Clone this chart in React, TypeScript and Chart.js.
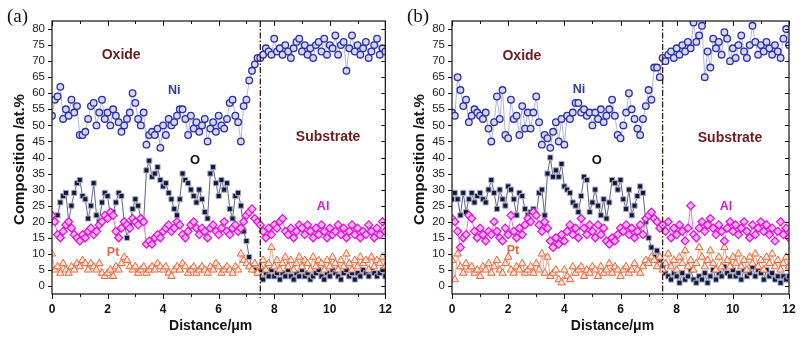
import React, { useEffect, useRef } from "react";
import { Chart, registerables } from "chart.js";
Chart.register(...registerables);

// sampling step of the profiles (μm)
const STEP = 0.1;

// ---------- Panel (a) ----------
const niA = [
  53, 58, 59, 62, 52, 55, 53, 58, 54, 56,
  47, 47, 48, 52, 56, 57, 50, 54, 58, 52,
  54, 50, 55, 53, 51, 48, 50, 52, 54, 60,
  57, 52, 50, 54, 44, 47, 48, 47, 49, 43,
  50, 47, 52, 50, 51, 53, 55, 55, 52, 47,
  53, 49, 51, 48, 50, 52, 45, 49, 51, 48,
  53, 50, 49, 52, 57, 58, 53, 51, 45, 56,
  58, 64, 67, 69, 71, 71, 72, 74, 73, 72,
  77, 73, 74, 72, 75, 73, 71, 74, 76, 77,
  73, 75, 72, 74, 71, 75, 76, 73, 77, 72,
  75, 74, 78, 72, 75, 76, 67, 74, 78, 73,
  75, 72, 74, 76, 71, 73, 75, 77, 72, 74,
  73,
];
const oA = [
  21, 20, 22, 26, 28, 29, 20, 25, 29, 32,
  33, 28, 27, 21, 25, 32, 22, 20, 26, 29,
  28, 22, 23, 26, 29, 28, 20, 15, 19, 24,
  27, 25, 21, 20, 36, 39, 34, 35, 37, 33,
  31, 32, 29, 27, 24, 22, 27, 35, 33, 32,
  30, 28, 26, 30, 27, 23, 21, 35, 37, 32,
  28, 33, 30, 32, 24, 21, 28, 29, 25, 17,
  14, 9, 6, 5, 4, 5, 2, 4, 3, 5,
  3, 4, 2, 4, 3, 5, 3, 2, 4, 3,
  5, 3, 4, 2, 3, 4, 5, 3, 2, 4,
  3, 5, 4, 3, 2, 4, 5, 3, 4, 2,
  4, 3, 5, 4, 3, 5, 4, 3, 4, 5,
  3,
];
const alA = [
  22, 20, 16, 15, 17, 19, 20, 18, 16, 15,
  14, 16, 15, 17, 18, 16, 17, 19, 20, 22,
  21, 23, 22, 17, 15, 18, 20, 19, 18, 21,
  20, 19, 21, 20, 13, 14, 13, 15, 16, 15,
  17, 18, 19, 17, 18, 20, 19, 16, 15, 17,
  19, 20, 18, 16, 18, 17, 15, 18, 19, 17,
  16, 18, 20, 17, 16, 18, 19, 17, 18, 20,
  22, 23, 24, 21, 20, 19, 17, 15, 18, 16,
  19, 18, 20, 21, 17, 16, 18, 15, 17, 19,
  18, 16, 19, 17, 15, 18, 16, 19, 17, 15,
  18, 16, 17, 19, 16, 18, 15, 17, 19, 16,
  18, 15, 17, 16, 19, 17, 15, 18, 16, 20,
  17,
];
const ptA = [
  10, 5, 6, 4, 7, 5, 4, 6, 5, 7,
  6, 8, 7, 5, 7, 6, 5, 7, 4, 3,
  4, 5, 3, 6, 5, 7, 9, 8, 6, 5,
  6, 4, 5, 6, 4, 5, 6, 5, 7, 6,
  5, 6, 4, 3, 5, 6, 5, 7, 6, 4,
  5, 6, 4, 5, 6, 5, 4, 6, 5, 7,
  6, 4, 5, 6, 5, 4, 6, 5, 10, 8,
  7, 6, 5, 7, 4, 6, 8, 5, 7, 12,
  6, 8, 5, 7, 9, 6, 8, 5, 7, 9,
  6, 8, 7, 5, 9, 6, 8, 7, 5, 8,
  6, 9, 7, 5, 8, 6, 10, 7, 5, 8,
  6, 9, 7, 8, 5, 9, 6, 8, 7, 9,
  6,
];

// ---------- Panel (b) ----------
const niB = [
  54, 53, 65, 61, 56, 58, 51, 53, 55, 54,
  53, 52, 54, 49, 45, 51, 59, 52, 61, 47,
  46, 58, 52, 53, 47, 56, 49, 54, 49, 54,
  59, 51, 44, 47, 46, 43, 48, 51, 45, 52,
  44, 53, 52, 54, 57, 57, 54, 55, 53, 54,
  50, 54, 52, 55, 51, 53, 55, 58, 53, 47,
  46, 50, 54, 60, 55, 52, 49, 47, 52, 56,
  61, 58, 68, 68, 65, 71, 70, 72, 73, 71,
  74, 72, 75, 73, 76, 74, 82, 76, 78, 81,
  65, 73, 68, 77, 74, 76, 72, 79, 77, 70,
  74, 71, 75, 78, 73, 71, 75, 81, 76, 72,
  75, 73, 76, 74, 72, 75, 73, 71, 77, 80,
  75,
];
const oB = [
  27, 29, 27, 22, 29, 23, 27, 29, 26, 28,
  29, 27, 26, 30, 33, 29, 24, 30, 27, 25,
  31, 30, 27, 22, 29, 28, 24, 22, 23, 24,
  22, 29, 30, 22, 35, 40, 34, 36, 34, 38,
  31, 30, 29, 26, 25, 23, 28, 34, 33, 23,
  26, 30, 25, 22, 27, 21, 26, 33, 32, 30,
  33, 27, 24, 30, 22, 25, 28, 31, 29, 20,
  15, 12, 9, 11, 8, 6, 4, 3, 2, 4,
  3, 1, 4, 2, 3, 5, 2, 1, 3, 2,
  4, 1, 3, 5, 2, 4, 3, 6, 4, 3,
  5, 3, 4, 2, 5, 3, 4, 6, 3, 5,
  4, 2, 5, 3, 4, 2, 3, 1, 3, 2,
  3,
];
const alB = [
  21, 20, 17, 12, 15, 16, 22, 21, 17, 15,
  18, 16, 14, 17, 16, 20, 17, 15, 14, 18,
  16, 22, 17, 15, 18, 16, 19, 21, 20, 23,
  22, 19, 17, 20, 18, 14, 12, 15, 13, 16,
  14, 17, 19, 16, 18, 15, 21, 18, 16, 19,
  17, 15, 19, 16, 18, 14, 13, 15, 14, 16,
  18, 17, 19, 16, 18, 15, 17, 19, 16, 21,
  22, 23, 21, 20, 18, 19, 17, 20, 15, 18,
  16, 19, 17, 14, 18, 25, 16, 15, 18, 20,
  17, 19, 21, 18, 16, 19, 17, 14, 18, 20,
  17, 19, 16, 18, 20, 17, 15, 19, 16, 18,
  20, 17, 19, 16, 18, 14, 17, 20, 16, 18,
  15,
];
const ptB = [
  8, 2, 10, 6, 4, 7, 5, 6, 4, 5,
  3, 6, 5, 7, 4, 6, 8, 5, 4, 7,
  9, 5, 4, 6, 5, 7, 4, 5, 6, 4,
  7, 5, 10, 4, 9, 3, 4, 5, 2, 1,
  5, 3, 2, 6, 4, 5, 6, 3, 5, 4,
  6, 5, 3, 6, 4, 5, 7, 4, 6, 5,
  3, 5, 6, 4, 5, 7, 5, 4, 6, 8,
  7, 9, 8, 6, 9, 5, 7, 10, 6, 8,
  5, 9, 7, 11, 6, 8, 5, 7, 12, 9,
  6, 8, 11, 7, 5, 9, 6, 12, 8, 6,
  9, 7, 10, 6, 8, 5, 9, 7, 10, 6,
  8, 5, 9, 7, 10, 6, 8, 5, 7, 9,
  6,
];

const yTickValues = [0, 5, 10, 15, 20, 25, 30, 35, 40, 45, 50, 55, 60, 65, 70, 75, 80];
const xTickValues = [0, 2, 4, 6, 8, 10, 12];
const INTERFACE = 7.5;

const FONT = "'Liberation Sans', Arial, sans-serif";

type Label = { text: string; x: number; y: number; color: string; size: number };

const labelsA: Label[] = [
  { text: "Oxide", x: 2.49, y: 72, color: "#6a1c1c", size: 14 },
  { text: "Ni", x: 4.4, y: 61, color: "#2b3aa0", size: 12.5 },
  { text: "O", x: 5.15, y: 39, color: "#111111", size: 13 },
  { text: "Substrate", x: 9.94, y: 46.3, color: "#6a1c1c", size: 14 },
  { text: "Al", x: 9.76, y: 24.6, color: "#d41cd0", size: 12.5 },
  { text: "Pt", x: 2.2, y: 10.3, color: "#e06a46", size: 12.5 },
];
const labelsB: Label[] = [
  { text: "Oxide", x: 2.49, y: 71.6, color: "#6a1c1c", size: 14 },
  { text: "Ni", x: 4.52, y: 61.2, color: "#2b3aa0", size: 12.5 },
  { text: "O", x: 5.16, y: 39, color: "#111111", size: 13 },
  { text: "Substrate", x: 9.9, y: 46, color: "#6a1c1c", size: 14 },
  { text: "Al", x: 9.76, y: 24.8, color: "#d41cd0", size: 12.5 },
  { text: "Pt", x: 2.17, y: 10.9, color: "#e06a46", size: 12.5 },
];

function toPoints(values: number[]) {
  return values.map((v, i) => ({ x: Math.round(i * STEP * 10) / 10, y: v }));
}

type PanelProps = {
  tag: string;
  ni: number[];
  o: number[];
  al: number[];
  pt: number[];
  labels: Label[];
  width: number;
  padRight: number;
};

function Panel({ tag, ni, o, al, pt, labels, width, padRight }: PanelProps) {
  const ref = useRef<HTMLCanvasElement | null>(null);
  useEffect(() => {
    if (!ref.current) return;
    const decor = {
      id: "decor",
      afterDatasetsDraw(chart: any) {
        const { ctx, chartArea: a, scales } = chart;
        const xs = scales.x;
        const ys = scales.y;
        ctx.save();
        // interface line
        const xi = xs.getPixelForValue(INTERFACE);
        ctx.strokeStyle = "#3a1a12";
        ctx.lineWidth = 1.3;
        ctx.setLineDash([6, 2, 1.5, 2]);
        ctx.beginPath();
        ctx.moveTo(xi, a.top);
        ctx.lineTo(xi, a.bottom + 4);
        ctx.stroke();
        ctx.setLineDash([]);
        // labels
        ctx.textAlign = "center";
        ctx.textBaseline = "middle";
        for (const l of labels) {
          ctx.font = `bold ${l.size}px ${FONT}`;
          ctx.fillStyle = l.color;
          ctx.fillText(l.text, xs.getPixelForValue(l.x), ys.getPixelForValue(l.y));
        }
        ctx.restore();
      },
      afterDraw(chart: any) {
        const { ctx, chartArea: a, scales } = chart;
        const xs = scales.x;
        const ys = scales.y;
        ctx.save();
        ctx.strokeStyle = "#111";
        ctx.lineWidth = 1.2;
        ctx.strokeRect(a.left, a.top, a.right - a.left, a.bottom - a.top);
        ctx.lineWidth = 1;
        ctx.beginPath();
        for (let i = 0; i <= 12; i++) {
          const px = Math.round(xs.getPixelForValue(i)) + 0.5;
          const len = i % 2 === 0 ? 5 : 3;
          ctx.moveTo(px, a.bottom);
          ctx.lineTo(px, a.bottom + len);
          ctx.moveTo(px, a.top);
          ctx.lineTo(px, a.top + len);
        }
        for (const v of yTickValues) {
          const py = Math.round(ys.getPixelForValue(v)) + 0.5;
          ctx.moveTo(a.left, py);
          ctx.lineTo(a.left - 4, py);
          ctx.moveTo(a.right, py);
          ctx.lineTo(a.right - 4, py);
        }
        ctx.stroke();
        // axis titles
        ctx.fillStyle = "#111";
        ctx.font = `bold 14px ${FONT}`;
        ctx.textAlign = "center";
        ctx.textBaseline = "middle";
        ctx.fillText("Distance/\u03bcm", (a.left + a.right) / 2 - 8, a.bottom + 32);
        ctx.save();
        ctx.translate(a.left - 32, (a.top + a.bottom) / 2 + 2);
        ctx.rotate(-Math.PI / 2);
        ctx.font = `bold 15px ${FONT}`;
        ctx.fillText("Composition /at.%", 0, 0);
        ctx.restore();
        // panel tag
        ctx.font = `19px 'Liberation Serif', 'Times New Roman', serif`;
        ctx.textAlign = "left";
        ctx.textBaseline = "alphabetic";
        ctx.fillText(tag, 7, 22);
        ctx.restore();
      },
    };
    const chart = new Chart(ref.current, {
      type: "line",
      data: {
        datasets: [
          {
            label: "Ni",
            data: toPoints(ni),
            borderColor: "#9aa4d0",
            borderWidth: 0.8,
            pointStyle: "circle",
            pointRadius: 3.3,
            pointBorderWidth: 1.3,
            pointBorderColor: "#2b2fa6",
            pointBackgroundColor: "#d4d8f4",
          },
          {
            label: "Al",
            data: toPoints(al),
            borderColor: "#e650e0",
            borderWidth: 0.8,
            pointStyle: "rectRot",
            pointRadius: 4,
            pointBorderWidth: 1.2,
            pointBorderColor: "#e010d8",
            pointBackgroundColor: "#f4b0f0",
          },
          {
            label: "Pt",
            data: toPoints(pt),
            borderColor: "#e8906a",
            borderWidth: 0.8,
            pointStyle: "triangle",
            pointRadius: 4.3,
            pointBorderWidth: 1,
            pointBorderColor: "#e4683e",
            pointBackgroundColor: "#fde4d6",
          },
          {
            label: "O",
            data: toPoints(o),
            borderColor: "#3a3e68",
            borderWidth: 0.8,
            pointStyle: "rect",
            pointRadius: 3.6,
            pointBorderWidth: 1,
            pointBorderColor: "#a8acc8",
            pointBackgroundColor: "#141838",
          },
        ],
      },
      options: {
        responsive: false,
        animation: false,
        events: [],
        layout: { padding: { top: 21, right: padRight, left: 0, bottom: 0 } },
        plugins: { legend: { display: false }, tooltip: { enabled: false } },
        scales: {
          x: {
            type: "linear",
            min: 0,
            max: 12,
            grid: { display: false, drawTicks: false },
            border: { display: false },
            afterBuildTicks: (s: any) => {
              s.ticks = xTickValues.map((v) => ({ value: v }));
            },
            afterFit: (s: any) => {
              s.height = 45;
            },
            ticks: {
              padding: 8,
              color: "#111",
              font: { family: FONT, size: 12, weight: "bold" },
              maxRotation: 0,
            },
          },
          y: {
            type: "linear",
            min: -2.5,
            max: 82.5,
            grid: { display: false, drawTicks: false },
            border: { display: false },
            afterBuildTicks: (s: any) => {
              s.ticks = yTickValues.map((v) => ({ value: v }));
            },
            afterFit: (s: any) => {
              s.width = 52;
            },
            ticks: {
              padding: 7,
              color: "#222",
              font: { family: FONT, size: 11.5 },
            },
          },
        },
      },
      plugins: [decor],
    } as any);
    return () => chart.destroy();
  }, []);
  return <canvas ref={ref} width={width} height={339} style={{ display: "block" }} />;
}

export default function App() {
  return (
    <div
      style={{
        position: "absolute",
        left: 0,
        top: 0,
        width: 804,
        height: 339,
        background: "#fff",
        display: "flex",
      }}
    >
      <Panel tag="(a)" ni={niA} o={oA} al={alA} pt={ptA} labels={labelsA} width={400} padRight={10} />
      <Panel tag="(b)" ni={niB} o={oB} al={alB} pt={ptB} labels={labelsB} width={404} padRight={15} />
    </div>
  );
}
